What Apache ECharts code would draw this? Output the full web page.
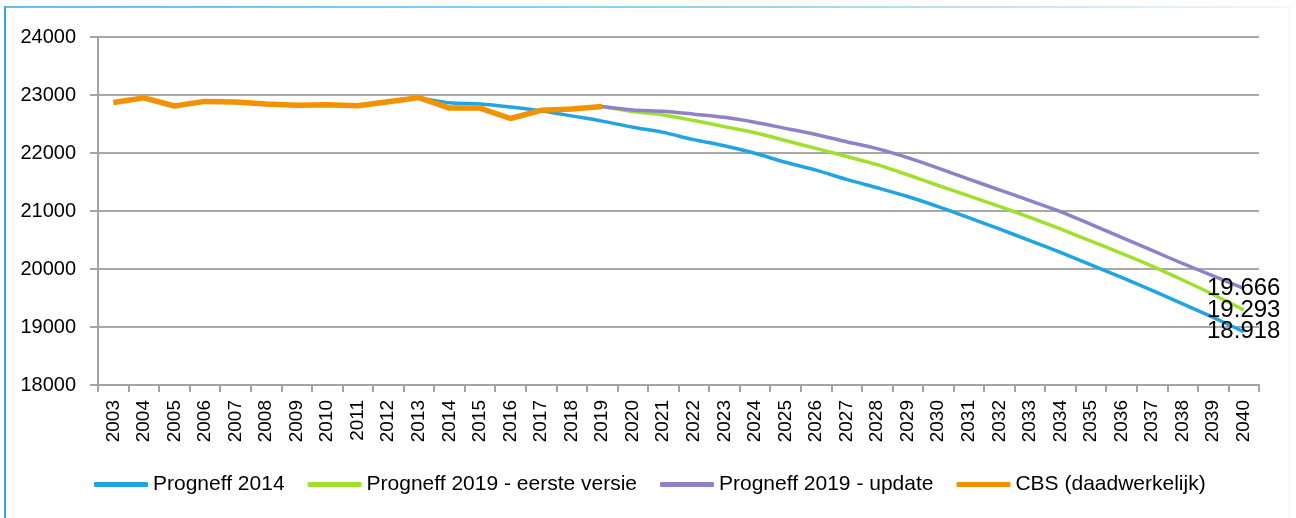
<!DOCTYPE html>
<html>
<head>
<meta charset="utf-8">
<script src="https://cdn.jsdelivr.net/npm/echarts@6/dist/echarts.min.js"></script>
<style>
  html, body { margin: 0; padding: 0; background: #ffffff; }
  #chart { width: 1296px; height: 518px; }
</style>
</head>
<body>
<div id="chart"></div>
<script>
// Years on the x axis
const years = ['2003','2004','2005','2006','2007','2008','2009','2010','2011','2012',
  '2013','2014','2015','2016','2017','2018','2019','2020','2021','2022','2023','2024',
  '2025','2026','2027','2028','2029','2030','2031','2032','2033','2034','2035','2036',
  '2037','2038','2039','2040'];

// Forecast Progneff 2014 (from 2013)
const progneff2014 = [null,null,null,null,null,null,null,null,null,null,
  22955,22865,22845,22795,22730,22640,22550,22445,22355,22230,22125,21995,
  21840,21705,21545,21400,21250,21075,20885,20690,20490,20285,20070,19855,
  19630,19400,19165,18918];

// Forecast Progneff 2019 - first version (from 2019)
const progneff2019First = [null,null,null,null,null,null,null,null,null,null,
  null,null,null,null,null,null,22800,22715,22655,22560,22455,22350,
  22215,22080,21940,21800,21625,21440,21260,21080,20890,20690,20480,20270,
  20050,19810,19560,19293];

// Forecast Progneff 2019 - update (from 2019)
const progneff2019Update = [null,null,null,null,null,null,null,null,null,null,
  null,null,null,null,null,null,22800,22740,22720,22670,22615,22530,
  22425,22320,22195,22075,21920,21740,21550,21365,21180,20990,20770,20545,
  20320,20095,19880,19666];

// Actual CBS figures
const cbsActual = [22870,22950,22810,22890,22880,22845,22825,22830,22815,22885,
  22955,22775,22775,22595,22735,22760,22800];

const seriesNames = ['Progneff 2014','Progneff 2019 - eerste versie','Progneff 2019 - update','CBS (daadwerkelijk)'];
const colors = ['#22a3e2','#9fe02c','#8f80c9','#f39200'];

const font = "'Liberation Sans',Arial,sans-serif";

// Dutch thousands separator
function nl(v) {
  return String(v).replace(/\B(?=(\d{3})+(?!\d))/g, '.');
}

// Show the value label only on the last point of a forecast
function withEndLabel(arr) {
  return arr.map(function (v, i) {
    if (i === arr.length - 1) {
      return { value: v, label: { show: true } };
    }
    return v;
  });
}

function forecast(name, data, color) {
  return {
    name: name,
    type: 'line',
    data: withEndLabel(data),
    smooth: 0.25,
    showSymbol: true,
    showAllSymbol: true,
    symbol: 'circle',
    symbolSize: 0,
    connectNulls: false,
    lineStyle: { color: color, width: 3.5 },
    itemStyle: { color: color },
    label: {
      show: false,
      position: 'inside',
      color: '#000',
      fontFamily: font,
      fontSize: 24,
      formatter: function (p) { return nl(p.value); }
    },
    emphasis: { disabled: true }
  };
}

const chart = echarts.init(document.getElementById('chart'), null, { renderer: 'canvas' });

chart.setOption({
  animation: false,
  backgroundColor: '#ffffff',
  graphic: [
    { type: 'line', shape: { x1: 5, y1: 6, x2: 5, y2: 518 }, style: { stroke: '#3aa7e0', lineWidth: 2 }, z: 100 },
    { type: 'line', shape: { x1: 5, y1: 7, x2: 1290, y2: 7 },
      style: { lineWidth: 1.5,
        stroke: { type: 'linear', x: 0, y: 0, x2: 1, y2: 0,
          colorStops: [{ offset: 0, color: '#3aa7e0' }, { offset: 0.6, color: '#7cc4ec' }, { offset: 1, color: '#eef6fb' }] } }, z: 100 },
    { type: 'line', shape: { x1: 1289, y1: 7, x2: 1289, y2: 518 }, style: { stroke: '#f0f5f8', lineWidth: 1 }, z: 100 }
  ],
  grid: { left: 98, right: 37, top: 37, bottom: 133, containLabel: false },
  legend: {
    left: 94,
    top: 474,
    padding: 0,
    itemWidth: 54,
    itemHeight: 5,
    itemGap: 23,
    icon: 'roundRect',
    textStyle: { fontFamily: font, fontSize: 21, color: '#000' },
    data: seriesNames
  },
  xAxis: {
    type: 'category',
    data: years,
    boundaryGap: true,
    axisLine: { lineStyle: { color: '#a3a3a3', width: 2 } },
    axisTick: { show: true, length: 7, interval: 0, lineStyle: { color: '#a3a3a3', width: 2 } },
    axisLabel: {
      interval: 0,
      rotate: 90,
      margin: 15,
      color: '#000',
      fontFamily: font,
      fontSize: 19
    },
    splitLine: { show: false }
  },
  yAxis: {
    type: 'value',
    min: 18000,
    max: 24000,
    interval: 1000,
    axisLine: { show: true, lineStyle: { color: '#a3a3a3', width: 2 } },
    axisTick: { show: true, length: 8, lineStyle: { color: '#a3a3a3', width: 2 } },
    axisLabel: {
      margin: 22,
      color: '#000',
      fontFamily: font,
      fontSize: 20,
      formatter: function (v) { return String(v); }
    },
    splitLine: { show: true, lineStyle: { color: '#a8a8a8', width: 2 } }
  },
  series: [
    forecast(seriesNames[0], progneff2014, colors[0]),
    forecast(seriesNames[1], progneff2019First, colors[1]),
    forecast(seriesNames[2], progneff2019Update, colors[2]),
    {
      name: seriesNames[3],
      type: 'line',
      data: cbsActual,
      showSymbol: false,
      symbol: 'circle',
      lineStyle: { color: colors[3], width: 5.5 },
      itemStyle: { color: colors[3] },
      emphasis: { disabled: true }
    }
  ]
});
</script>
</body>
</html>
